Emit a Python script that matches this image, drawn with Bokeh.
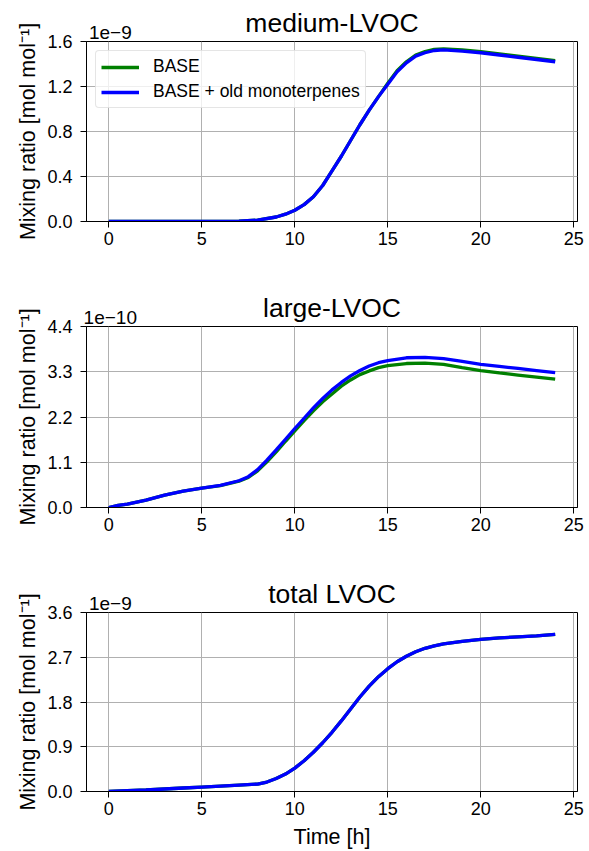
from bokeh.plotting import figure
from bokeh.layouts import column
from bokeh.models import Legend, LegendItem, Range1d, FixedTicker, PrintfTickFormatter, LinearAxis
from bokeh.embed import file_html
from bokeh.resources import INLINE

# ---------------- data ----------------
titles = ["medium-LVOC", "large-LVOC", "total LVOC"]
series_names = ["BASE", "BASE + old monoterpenes"]
exponent_labels = ["1e\u22129", "1e\u221210", "1e\u22129"]

# medium-LVOC  (x 1e-9 mol/mol)
t_medium = [0, 1, 2, 3, 4, 5, 6, 7, 8, 9, 9.5, 10, 10.5, 11, 11.5, 12, 12.5, 13, 13.5, 14, 14.5,
            15, 15.5, 16, 16.5, 17, 17.5, 18, 19, 20, 21, 22, 23, 24]
medium_base = [0, 0, 0, 0, 0, 0, 0.001, 0.003, 0.012, 0.04, 0.065, 0.10, 0.15, 0.22, 0.32, 0.45,
               0.58, 0.72, 0.86, 0.99, 1.11, 1.23, 1.34, 1.42, 1.48, 1.51, 1.53, 1.535, 1.525,
               1.51, 1.49, 1.47, 1.45, 1.43]
medium_old = [0, 0, 0, 0, 0, 0, 0.001, 0.003, 0.012, 0.04, 0.065, 0.10, 0.15, 0.22, 0.32, 0.45,
              0.58, 0.72, 0.86, 0.99, 1.11, 1.22, 1.33, 1.41, 1.47, 1.50, 1.52, 1.525, 1.515,
              1.50, 1.48, 1.46, 1.44, 1.42]

# large-LVOC  (x 1e-10 mol/mol)
t_large = [0, 0.5, 1, 2, 3, 4, 5, 6, 7, 7.5, 8, 8.5, 9, 9.5, 10, 10.5, 11, 11.5, 12, 12.5, 13,
           13.5, 14, 14.5, 15, 16, 17, 18, 19, 20, 21, 22, 23, 24]
large_base = [0, 0.05, 0.08, 0.18, 0.30, 0.40, 0.47, 0.53, 0.64, 0.73, 0.89, 1.11, 1.35, 1.61,
              1.86, 2.11, 2.35, 2.57, 2.76, 2.95, 3.10, 3.23, 3.32, 3.40, 3.45, 3.50, 3.51, 3.48,
              3.40, 3.33, 3.27, 3.22, 3.17, 3.12]
large_old = [0, 0.05, 0.08, 0.18, 0.30, 0.40, 0.47, 0.54, 0.65, 0.75, 0.92, 1.15, 1.40, 1.66,
             1.92, 2.17, 2.42, 2.65, 2.86, 3.04, 3.20, 3.33, 3.44, 3.52, 3.57, 3.64, 3.65, 3.62,
             3.55, 3.48, 3.43, 3.38, 3.33, 3.28]

# total LVOC  (x 1e-9 mol/mol)
t_total = [0, 1, 2, 3, 4, 5, 6, 7, 8, 8.5, 9, 9.5, 10, 10.5, 11, 11.5, 12, 12.5, 13, 13.5, 14,
           14.5, 15, 15.5, 16, 16.5, 17, 17.5, 18, 19, 20, 21, 22, 23, 24]
total_base = [0, 0.015, 0.03, 0.05, 0.07, 0.09, 0.11, 0.13, 0.15, 0.19, 0.26, 0.35, 0.47, 0.62,
              0.79, 0.98, 1.19, 1.42, 1.66, 1.90, 2.12, 2.31, 2.47, 2.61, 2.72, 2.81, 2.88, 2.93,
              2.97, 3.02, 3.06, 3.09, 3.11, 3.13, 3.16]
total_old = [0, 0.015, 0.03, 0.05, 0.07, 0.09, 0.11, 0.13, 0.15, 0.19, 0.26, 0.35, 0.47, 0.62,
             0.79, 0.98, 1.19, 1.42, 1.66, 1.90, 2.12, 2.31, 2.47, 2.61, 2.72, 2.81, 2.88, 2.93,
             2.97, 3.02, 3.06, 3.09, 3.11, 3.13, 3.16]

y_max = [1.6, 4.4, 3.6]
y_ticks = [[0, 0.4, 0.8, 1.2, 1.6], [0, 1.1, 2.2, 3.3, 4.4], [0, 0.9, 1.8, 2.7, 3.6]]
x_ticks = [0, 5, 10, 15, 20, 25]
x_label = "Time [h]"
y_label = "Mixing ratio [mol mol\u207b\u00b9]"

# ---------------- styling ----------------
FONT = "Liberation Sans"
GREEN = "#008000"
BLUE = "#0000ff"
LW = 3.3
X0, X1 = -1.2, 25.2
EXP_POS = 0.08  # x position (data) of the exponent text centre

heights = [285, 285, 281]
borders_top = [41, 41, 42]
borders_bottom = [64, 63, 59]

panels = [
    (t_medium, medium_base, t_medium, medium_old),
    (t_large, large_base, t_large, large_old),
    (t_total, total_base, t_total, total_old),
]

figs = []
for i, (tb, yb, to, yo) in enumerate(panels):
    p = figure(width=589, height=heights[i], output_backend="svg", toolbar_location=None,
               title=None,
               x_range=Range1d(X0, X1), y_range=Range1d(0, y_max[i]),
               min_border_left=86, min_border_right=12,
               min_border_top=borders_top[i], min_border_bottom=borders_bottom[i])
    p.background_fill_color = "white"
    p.border_fill_color = "white"
    p.outline_line_color = "black"
    p.outline_line_width = 1

    r_base = p.line(tb, yb, line_color=GREEN, line_width=LW)
    r_old = p.line(to, yo, line_color=BLUE, line_width=LW)

    for ax in (p.xaxis[0], p.yaxis[0]):
        ax.axis_line_color = "black"
        ax.major_tick_line_color = "black"
        ax.major_tick_out = 6
        ax.major_tick_in = 0
        ax.minor_tick_line_color = None
        ax.major_label_text_font = FONT
        ax.major_label_text_font_size = "18px"
        ax.major_label_text_color = "black"
        ax.axis_label_text_font = FONT
        ax.axis_label_text_font_size = "21.5px"
        ax.axis_label_text_font_style = "normal"
        ax.axis_label_text_color = "black"

    p.xaxis[0].ticker = FixedTicker(ticks=x_ticks)
    p.xaxis[0].formatter = PrintfTickFormatter(format="%d")
    p.xaxis[0].major_label_standoff = 4
    if i == 2:
        p.xaxis[0].axis_label = x_label
        p.xaxis[0].axis_label_standoff = 7
    p.yaxis[0].ticker = FixedTicker(ticks=y_ticks[i])
    p.yaxis[0].formatter = PrintfTickFormatter(format="%.1f")
    p.yaxis[0].major_label_standoff = 8
    p.yaxis[0].axis_label = y_label
    p.yaxis[0].axis_label_standoff = 4

    p.xgrid[0].ticker = FixedTicker(ticks=x_ticks)
    p.ygrid[0].ticker = FixedTicker(ticks=y_ticks[i])
    for g in (p.xgrid[0], p.ygrid[0]):
        g.grid_line_color = "#b0b0b0"
        g.grid_line_width = 1

    # exponent text (as tick label) and panel title (as axis label) on a bare top axis
    top_ax = LinearAxis(ticker=FixedTicker(ticks=[EXP_POS]),
                        major_label_overrides={EXP_POS: exponent_labels[i]},
                        axis_line_color=None, major_tick_line_color=None,
                        minor_tick_line_color=None, major_tick_out=0, major_tick_in=0,
                        major_label_standoff=3,
                        major_label_text_font=FONT, major_label_text_font_size="19px",
                        major_label_text_color="black",
                        axis_label=titles[i], axis_label_standoff=-15,
                        axis_label_text_font=FONT, axis_label_text_font_size="26.5px",
                        axis_label_text_font_style="normal", axis_label_text_color="black")
    p.add_layout(top_ax, "above")

    if i == 0:
        legend = Legend(items=[LegendItem(label=series_names[0], renderers=[r_base]),
                               LegendItem(label=series_names[1], renderers=[r_old])],
                        location="top_left", margin=9, padding=5, spacing=4,
                        glyph_width=38, glyph_height=20, label_height=20, label_standoff=14,
                        label_text_font=FONT, label_text_font_size="17.5px",
                        label_text_color="black",
                        border_line_color="#cccccc", border_line_width=1,
                        border_radius=4,
                        background_fill_color="white", background_fill_alpha=0.8)
        p.add_layout(legend)

    figs.append(p)

layout = column(*figs, spacing=0)
open("out.html", "w").write(file_html(layout, INLINE))
